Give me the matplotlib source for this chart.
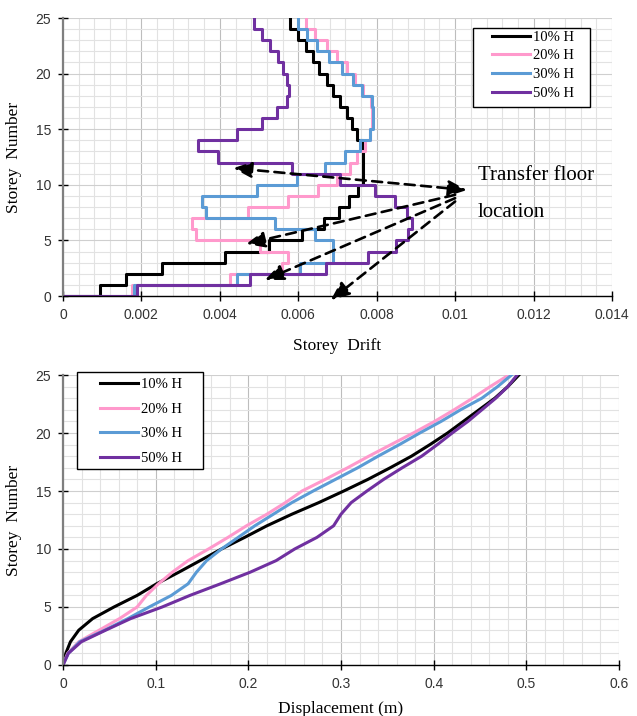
import matplotlib
matplotlib.use('Agg')
import matplotlib.pyplot as plt
from matplotlib.ticker import MultipleLocator
from matplotlib.patches import Rectangle

# storey levels and load cases
storeys = list(range(26))
cases = ['10% H', '20% H', '30% H', '50% H']
colors = ['#000000', '#ff99cc', '#5b9bd5', '#7030a0']

# inter-storey drift, storey 1..25
drift_10 = [0.00094, 0.00161, 0.00252, 0.00413, 0.00525, 0.00609, 0.00666, 0.00704, 0.00729, 0.00752,
            0.00765, 0.00765, 0.00765, 0.00765, 0.00750, 0.00737, 0.00724, 0.00706, 0.00689, 0.00673,
            0.00653, 0.00638, 0.00620, 0.00599, 0.00579]
drift_20 = [0.00176, 0.00426, 0.00558, 0.00574, 0.00502, 0.00339, 0.00329, 0.00472, 0.00574, 0.00650,
            0.00699, 0.00732, 0.00750, 0.00770, 0.00783, 0.00788, 0.00788, 0.00785, 0.00765, 0.00745,
            0.00724, 0.00699, 0.00673, 0.00643, 0.00620]
drift_30 = [0.00181, 0.00444, 0.00604, 0.00689, 0.00689, 0.00643, 0.00541, 0.00365, 0.00354, 0.00495,
            0.00597, 0.00668, 0.00719, 0.00757, 0.00783, 0.00791, 0.00791, 0.00788, 0.00762, 0.00740,
            0.00711, 0.00678, 0.00648, 0.00622, 0.00599]
drift_50 = [0.00189, 0.00477, 0.00671, 0.00778, 0.00849, 0.00880, 0.00890, 0.00877, 0.00847, 0.00796,
            0.00706, 0.00584, 0.00395, 0.00344, 0.00444, 0.00507, 0.00546, 0.00571, 0.00576, 0.00571,
            0.00561, 0.00548, 0.00528, 0.00507, 0.00487]

# lateral displacement (m), storey 0..25
disp_10 = [0, 0.003, 0.008, 0.017, 0.032, 0.055, 0.080, 0.101, 0.125, 0.148, 0.171, 0.196, 0.220,
           0.247, 0.276, 0.303, 0.329, 0.353, 0.376, 0.396, 0.415, 0.432, 0.449, 0.466, 0.480, 0.492]
disp_20 = [0, 0.005, 0.017, 0.039, 0.061, 0.080, 0.090, 0.103, 0.118, 0.135, 0.157, 0.178, 0.198,
           0.220, 0.240, 0.258, 0.283, 0.307, 0.330, 0.354, 0.378, 0.401, 0.422, 0.442, 0.461, 0.481]
disp_30 = [0, 0.0057, 0.018, 0.045, 0.070, 0.093, 0.117, 0.135, 0.144, 0.155, 0.171, 0.189, 0.207,
           0.227, 0.247, 0.270, 0.294, 0.318, 0.340, 0.363, 0.385, 0.408, 0.429, 0.452, 0.469, 0.484]
disp_50 = [0, 0.0057, 0.0197, 0.046, 0.073, 0.107, 0.137, 0.170, 0.202, 0.230, 0.250, 0.274, 0.292,
           0.300, 0.311, 0.328, 0.346, 0.366, 0.387, 0.404, 0.420, 0.437, 0.452, 0.467, 0.480, 0.490]

drift_ticks = [0, 0.002, 0.004, 0.006, 0.008, 0.01, 0.012, 0.014]
drift_labels = ['0', '0.002', '0.004', '0.006', '0.008', '0.01', '0.012', '0.014']
disp_ticks = [0, 0.1, 0.2, 0.3, 0.4, 0.5, 0.6]
disp_labels = ['0', '0.1', '0.2', '0.3', '0.4', '0.5', '0.6']
storey_ticks = [0, 5, 10, 15, 20, 25]

# transfer floor arrows: (tail, head)
arrow_tails = [(0.0100, 9.1), (0.0100, 8.8), (0.0100, 8.5)]
arrow_heads = [(0.00467, 4.68), (0.00515, 1.44), (0.00683, -0.36)]

serif = 'Liberation Serif'
tickfont = ['Liberation Sans', 'DejaVu Sans']

fig = plt.figure(figsize=(6.37, 7.16), dpi=100)
ax1 = fig.add_axes([63 / 637, 1 - 296 / 716, 549 / 637, 278 / 716])
ax2 = fig.add_axes([63 / 637, 1 - 665 / 716, 556 / 637, 290 / 716])


def style(ax, xticks, xlabels, xminor):
    ax.set_ylim(0, 25)
    ax.set_xlim(xticks[0], xticks[-1])
    ax.set_xticks(xticks, labels=xlabels)
    ax.set_yticks(storey_ticks)
    ax.xaxis.set_minor_locator(MultipleLocator(xminor))
    ax.yaxis.set_minor_locator(MultipleLocator(1))
    ax.grid(which='major', axis='x', color='#bdbdbd', lw=0.8)
    ax.grid(which='major', axis='y', color='#cfcfcf', lw=0.8)
    ax.grid(which='minor', color='#e2e2e2', lw=0.8)
    ax.set_axisbelow(True)
    ax.spines['top'].set_visible(False)
    ax.spines['right'].set_visible(False)
    ax.spines['left'].set_color('#7f7f7f')
    ax.spines['left'].set_linewidth(1.6)
    ax.spines['bottom'].set_linewidth(1.0)
    ax.tick_params(which='major', direction='inout', length=7, width=1, colors='black',
                   labelsize=10, pad=5)
    ax.tick_params(which='minor', length=0)
    for t in ax.get_xticklabels() + ax.get_yticklabels():
        t.set_fontfamily(tickfont)
        t.set_color('#333333')
    ax.set_ylabel('Storey  Number', family=serif, fontsize=12.5)


def legend_box(ax, frame, anchor, spacing):
    x0, y0, x1, y1 = frame
    ax.add_patch(Rectangle((x0, y0), x1 - x0, y1 - y0, transform=ax.transAxes, facecolor='white',
                           edgecolor='black', lw=1.0, zorder=5, clip_on=False))
    leg = ax.legend(loc='upper left', bbox_to_anchor=anchor, frameon=False, borderpad=0,
                    borderaxespad=0, handlelength=2.6, handletextpad=0.25, labelspacing=spacing,
                    prop={'family': serif, 'size': 10.5})
    leg.set_zorder(6)


# storey drift
for d, c, lab in zip([drift_10, drift_20, drift_30, drift_50], colors, cases):
    ax1.plot([0] + d, storeys, drawstyle='steps-post', color=c, lw=2.2, label=lab)
style(ax1, drift_ticks, drift_labels, 0.0004)
ax1.set_xlabel('Storey  Drift', family=serif, fontsize=12.5)
ax1.xaxis.set_label_coords(0.5, -0.15)
ax1.yaxis.set_label_coords(-0.075, 0.5)
legend_box(ax1, (0.747, 0.680, 0.960, 0.964), (0.781, 0.955), 0.38)

arrow_kw = dict(color='black', lw=1.9, linestyle=(0, (3.8, 2.4)), mutation_scale=16,
                shrinkA=0, shrinkB=0)
ax1.annotate('', xy=(0.00434, 11.5), xytext=(0.0103, 9.53), annotation_clip=False,
             arrowprops=dict(arrowstyle='<|-|>,head_length=0.7,head_width=0.3', **arrow_kw))
for tail, head in zip(arrow_tails, arrow_heads):
    ax1.annotate('', xy=head, xytext=tail, annotation_clip=False,
                 arrowprops=dict(arrowstyle='-|>,head_length=0.7,head_width=0.3', **arrow_kw))
ax1.text(0.01058, 10.8, 'Transfer floor', family=serif, fontsize=15, va='center', ha='left')
ax1.text(0.01058, 7.55, 'location', family=serif, fontsize=15, va='center', ha='left')

# displacement
for d, c, lab in zip([disp_10, disp_20, disp_30, disp_50], colors, cases):
    ax2.plot(d, storeys, color=c, lw=2.2, label=lab)
style(ax2, disp_ticks, disp_labels, 0.02)
ax2.set_xlabel('Displacement (m)', family=serif, fontsize=12.5)
ax2.xaxis.set_label_coords(0.5, -0.125)
ax2.yaxis.set_label_coords(-0.074, 0.5)
legend_box(ax2, (0.025, 0.676, 0.252, 1.010), (0.066, 0.99), 0.78)

fig.savefig('out.png', dpi=100)
